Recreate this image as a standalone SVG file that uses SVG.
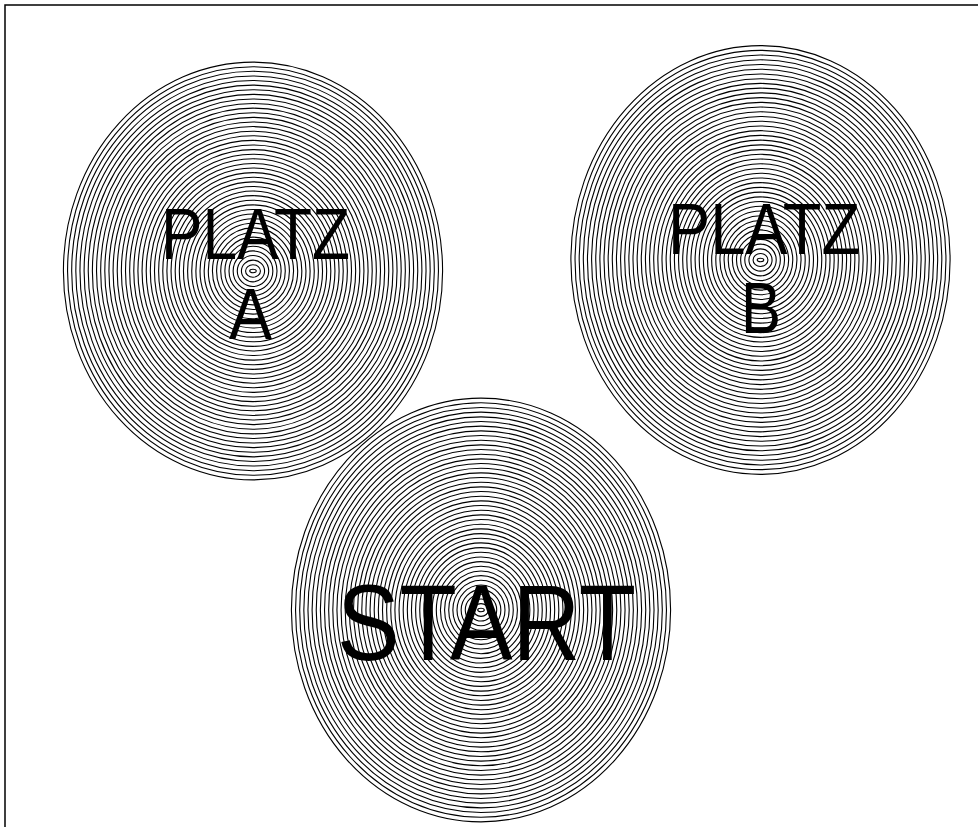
<svg xmlns="http://www.w3.org/2000/svg" xmlns:xlink="http://www.w3.org/1999/xlink" width="978" height="827" viewBox="0 0 978 827">
<style>
.rings ellipse{fill:none;stroke:#000;stroke-width:1.1}
.lbl{font-family:"Liberation Sans",Arial,sans-serif;fill:#000;text-anchor:middle}
</style>
<defs>
<g id="rings" class="rings">
<ellipse rx="3.3" ry="1.7"/><ellipse rx="7.44" ry="6.37"/><ellipse rx="11.58" ry="11.04"/><ellipse rx="15.72" ry="15.71"/><ellipse rx="19.86" ry="20.38"/><ellipse rx="24" ry="25.05"/><ellipse rx="28.14" ry="29.72"/><ellipse rx="32.28" ry="34.39"/><ellipse rx="36.42" ry="39.06"/><ellipse rx="40.56" ry="43.73"/><ellipse rx="44.7" ry="48.4"/><ellipse rx="48.84" ry="53.07"/><ellipse rx="52.98" ry="57.74"/><ellipse rx="57.12" ry="62.41"/><ellipse rx="61.26" ry="67.08"/><ellipse rx="65.4" ry="71.75"/><ellipse rx="69.54" ry="76.42"/><ellipse rx="73.68" ry="81.09"/><ellipse rx="77.82" ry="85.76"/><ellipse rx="81.96" ry="90.43"/><ellipse rx="86.1" ry="95.1"/><ellipse rx="90.24" ry="99.77"/><ellipse rx="94.38" ry="104.44"/><ellipse rx="98.52" ry="109.11"/><ellipse rx="102.66" ry="113.78"/><ellipse rx="106.8" ry="118.45"/><ellipse rx="110.94" ry="123.12"/><ellipse rx="115.08" ry="127.79"/><ellipse rx="119.22" ry="132.46"/><ellipse rx="123.36" ry="137.13"/><ellipse rx="127.5" ry="141.8"/><ellipse rx="131.64" ry="146.47"/><ellipse rx="135.78" ry="151.14"/><ellipse rx="139.92" ry="155.81"/><ellipse rx="144.06" ry="160.48"/><ellipse rx="148.2" ry="165.15"/><ellipse rx="152.34" ry="169.82"/><ellipse rx="156.48" ry="174.49"/><ellipse rx="160.62" ry="179.16"/><ellipse rx="164.76" ry="183.83"/><ellipse rx="168.9" ry="188.5"/><ellipse rx="173.04" ry="193.17"/><ellipse rx="177.18" ry="197.84"/><ellipse rx="181.32" ry="202.51"/><ellipse rx="185.46" ry="207.18"/><ellipse rx="189.6" ry="211.85"/>
</g>
</defs>
<rect x="0" y="0" width="978" height="827" fill="#fff"/>
<rect x="5" y="5" width="1100" height="1000" fill="none" stroke="#000" stroke-width="1.5"/>
<g id="platz-a">
<use xlink:href="#rings" transform="translate(253,271) scale(1,0.986)"/>
<text class="lbl" x="255.5" y="259" font-size="72" textLength="189" lengthAdjust="spacingAndGlyphs">PLATZ</text>
<text class="lbl" x="250.5" y="339" font-size="72" textLength="43" lengthAdjust="spacingAndGlyphs">A</text>
</g>
<g id="platz-b">
<use xlink:href="#rings" transform="translate(760.5,260) scale(1,1.012)"/>
<text class="lbl" x="764" y="254" font-size="72" textLength="192" lengthAdjust="spacingAndGlyphs">PLATZ</text>
<text class="lbl" x="761" y="333" font-size="72" textLength="40" lengthAdjust="spacingAndGlyphs">B</text>
</g>
<g id="start">
<use xlink:href="#rings" transform="translate(481,610)"/>
<text class="lbl" x="486.5" y="660" font-size="107" textLength="299" lengthAdjust="spacingAndGlyphs">START</text>
</g>
<g id="connectors"/>
</svg>
